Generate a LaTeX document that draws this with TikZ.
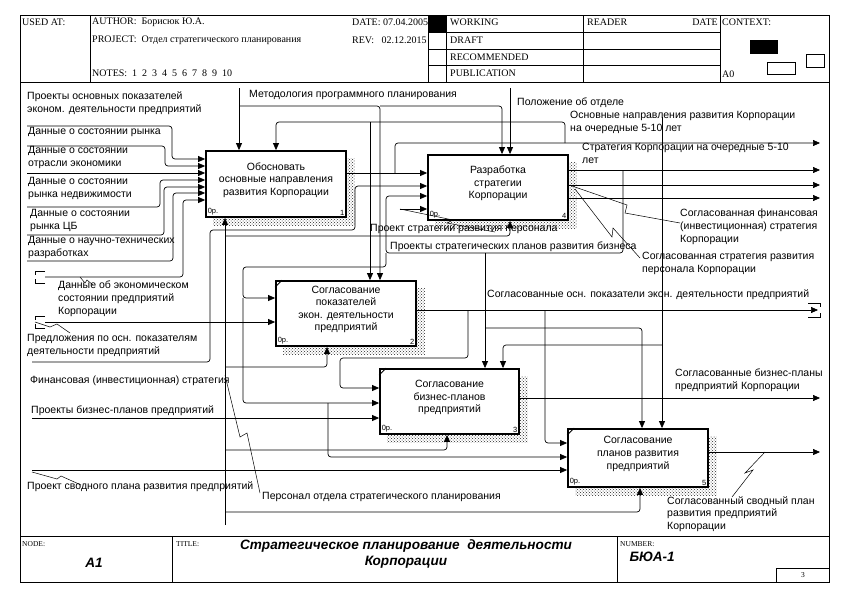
\documentclass[tikz,border=0pt]{standalone}
\usepackage{fontspec}
\setmainfont{Liberation Serif}
\newfontfamily\arial{Liberation Sans}
\usetikzlibrary{arrows.meta,patterns,backgrounds,calc}
\newcommand\diag{\arial\fontsize{10.5}{12.6}\selectfont}

\begin{document}
\begin{tikzpicture}[x=1pt,y=-1pt,
    frame/.style={line width=0.8pt},
    fnbox/.style={draw,line width=1.8pt,fill=white,inner sep=0pt},
    boxtxt/.style={font=\diag,align=center,yshift=4pt},
    link/.style={line width=0.7pt,rounded corners=3pt,-{Triangle[length=7pt,width=6pt]}},
    squig/.style={line width=0.5pt},
    lbl/.style={anchor=north west,inner sep=0pt,align=left,font=\diag},
    hdr/.style={anchor=west,inner sep=0pt,font=\fontsize{10}{11}\selectfont},
    ftr/.style={anchor=west,inner sep=0pt,font=\fontsize{7.5}{9}\selectfont},
    big/.style={font=\arial\bfseries\itshape\fontsize{13.6}{16.5}\selectfont}]
\useasboundingbox (0,0) rectangle (853,608);

% header and frame
\draw[frame] (20,15) rectangle (829,582);
\draw[frame] (20,82) -- (829,82);
\draw[frame] (90,15) -- (90,82) (428,15) -- (428,82) (446,15) -- (446,82)
  (583,15) -- (583,82) (720,15) -- (720,82);
\draw[frame] (428,32) -- (720,32) (428,49) -- (720,49) (428,65) -- (720,65);
\begin{scope}
  \clip (90,15) rectangle (428,82);
  \node[hdr] at (352,22) {DATE: 07.04.2005};
  \node[hdr] at (352,40) {REV:\ \ \ 02.12.2015};
\end{scope}
\fill (428,15) rectangle (446,32);
\node[hdr] at (22,22) {USED AT:};
\node[hdr] at (92,22) {AUTHOR:\ \ Борисюк Ю.А.};
\node[hdr] at (92,40) {PROJECT:\ \ Отдел стратегического планирования};
\node[hdr] at (92,73) {NOTES:\ \ 1\ \ 2\ \ 3\ \ 4\ \ 5\ \ 6\ \ 7\ \ 8\ \ 9\ \ 10};
\node[hdr] at (450,22) {WORKING};
\node[hdr] at (450,40) {DRAFT};
\node[hdr] at (450,57) {RECOMMENDED};
\node[hdr] at (450,73) {PUBLICATION};
\node[hdr] at (587,22) {READER};
\node[hdr,anchor=east] at (718,22) {DATE};
\node[hdr] at (722,22) {CONTEXT:};
\node[hdr] at (722,74) {A0};
\fill (750,40) rectangle (778,54);
\draw[frame] (767,62) rectangle (795,74) (806,54) rectangle (824,67);

% footer
\draw[frame] (20,536) -- (829,536) (172,536) -- (172,582) (617,536) -- (617,582);
\draw[frame] (776,568) rectangle (829,582);
\node[ftr] at (22,544) {NODE:};
\node[ftr] at (176,544) {TITLE:};
\node[ftr] at (620,544) {NUMBER:};
\node[big] at (94,563) {A1};
\node[big,align=center] at (406,554) {Стратегическое планирование\ \ деятельности\\Корпорации};
\node[big,anchor=west] at (626,557) {БЮА-1};
\node[font=\fontsize{7.5}{9}\selectfont] at (803,575) {3};

% function boxes
\node[fnbox,minimum width=140pt,minimum height=66pt] (b1) at (276,184) {};
\node[fnbox,minimum width=140pt,minimum height=65pt] (b4) at (498,187.5) {};
\node[fnbox,minimum width=140pt,minimum height=65pt] (b2) at (346,313.5) {};
\node[fnbox,minimum width=139pt,minimum height=65pt] (b3) at (449.5,401.5) {};
\node[fnbox,minimum width=140pt,minimum height=58pt] (b5) at (638,458) {};
\node[boxtxt] at (b1) {Обосновать\\основные направления\\развития Корпорации};
\node[boxtxt] at (b4) {Разработка\\стратегии\\Корпорации};
\node[boxtxt] at (b2) {Согласование\\показателей\\экон. деятельности\\предприятий};
\node[boxtxt] at (b3) {Согласование\\бизнес-планов\\предприятий};
\node[boxtxt] at (b5) {Согласование\\планов развития\\предприятий};
\foreach \b/\n in {b1/1,b2/2,b3/3,b4/4,b5/5} {
  \node[anchor=south west,inner sep=2.5pt,font=\arial\fontsize{7.5}{8}\selectfont] at (\b.south west) {0р.};
  \node[anchor=south east,inner sep=2.5pt,font=\arial\fontsize{7.5}{8}\selectfont] at (\b.south east) {\n};
}
\foreach \b in {b2,b3,b5}
  \draw[line width=0.8pt] (\b.north west) ++(0,7) -- ++(7,-7);
\begin{scope}[on background layer]
  \foreach \b in {b1,b2,b3,b4,b5}
    \fill[pattern=crosshatch dots,pattern color=black!85] ($(\b.north west)+(8,8)$) rectangle ($(\b.south east)+(8,8)$);
\end{scope}

% free ends and junctions
\coordinate (inA) at (27,126);
\coordinate (inB) at (27,146);
\coordinate (inC) at (27,173);
\coordinate (inD) at (27,207);
\coordinate (inE) at (27,235);
\coordinate (inF) at (27,261);
\coordinate (inG) at (45,277);
\coordinate (inH) at (45,322);
\coordinate (inK) at (32,362);
\coordinate (inL) at (32,418);
\coordinate (inM) at (32,470);
\coordinate (ctA) at (239,88);
\coordinate (ctB) at (510,88);
\coordinate (ctC) at (662,117);
\coordinate (mcA) at (225,525);
\coordinate (stub) at (400,209);
\coordinate (outA) at (820,143);
\coordinate (outB) at (820,170);
\coordinate (outC) at (820,185);
\coordinate (outD) at (820,198);
\coordinate (outE) at (818,310);
\coordinate (outF) at (820,398);
\coordinate (outG) at (820,452);
\coordinate (jA) at (239,106);
\coordinate (jB) at (380,106);
\coordinate (jC) at (565,143);
\coordinate (jD) at (370,122);
\coordinate (jE) at (395,173);
\coordinate (jF) at (623,170);
\coordinate (jG) at (386,253);
\coordinate (jH) at (485,253);
\coordinate (jI) at (485,328);
\coordinate (jK) at (243,298);
\coordinate (jL) at (328,403);
\coordinate (jN) at (468,310);
\coordinate (jO) at (545,310);
\coordinate (jP) at (662,345);

% inputs of box 1
\draw[link] (inA) -| (172,159) -- (b1.west |- 0,159);
\draw[link] (inB) -| (165,166) -- (b1.west |- 0,166);
\draw[link] (inC) -- (b1.west |- 0,173);
\draw[link] (inD) -| (160,180) -- (b1.west |- 0,180);
\draw[link] (inE) -| (164,187) -- (b1.west |- 0,187);
\draw[link] (inF) -| (173,193) -- (b1.west |- 0,193);
\draw[link] (inG) -| (183,200) -- (b1.west |- 0,200);

% controls
\draw[link] (ctA) -- (b1.north -| 239,0);
\draw[link] (jA) -| (b2.north -| 380,0);
\draw[link] (jB) -| (b4.north -| 502,0);
\draw[link] (ctB) -- (b4.north -| 510,0);
\draw[link] (jC) -- (565,122) -| (b1.north -| 276,0);
\draw[link] (jD) -- (b2.north -| 370,0);
\draw[link] (ctC) -- (b5.north -| 662,0);
\draw[link] (jP) -| (b3.north -| 503,0);
\draw[link] (jH) -- (b3.north -| 485,0);
\draw[link] (jI) -| (b5.north -| 642,0);

% box 1 and box 4 outputs
\draw[link] (b1.east |- 0,173) -- (b4.west |- 0,173);
\draw[link] (jE) |- (outA);
\draw[link] (b4.east |- 0,170) -- (outB);
\draw[link] (b4.east |- 0,185) -- (outC);
\draw[link] (b4.east |- 0,198) -- (outD);
\draw[link] (jF) |- (jG) |- (b4.west |- 0,196);
\draw[link] (jG) |- (243,267) |- (b2.west |- 0,298);
\draw[link] (jK) |- (b3.west |- 0,403);
\draw[link] (jL) |- (b5.west |- 0,457);
\draw[link] (inK) -| (210,230) -| (355,186) -- (b4.west |- 0,186);
\draw[link] (stub) -- (b4.west |- 0,209);

% box 2, 3, 5
\draw[link] (inH) -- (b2.west |- 0,322);
\draw[link] (b2.east |- 0,310) -- (outE);
\draw[link] (jN) |- (340,358) |- (b3.west |- 0,388);
\draw[link] (jO) |- (b5.west |- 0,443);
\draw[link] (inL) -- (b3.west |- 0,418);
\draw[link] (b3.east |- 0,398) -- (outF);
\draw[link] (inM) -- (b5.west |- 0,470);
\draw[link] (b5.east |- 0,452) -- (outG);

% mechanism
\draw[link] (mcA) -- (b1.south -| 225,0);
\draw[link] (225,236) -| (b4.south -| 510,0);
\draw[link] (225,367) -| (b2.south -| 327,0);
\draw[link] (225,450) -| (b3.south -| 447,0);
\draw[link] (225,512) -| (b5.south -| 640,0);

% tunnels
\draw[frame] (45,271) -| (35,275) (45,283) -| (35,279);
\draw[frame] (45,316) -| (35,320) (45,328) -| (35,324);
\draw[frame] (808,303) -| (820,307) (808,317) -| (820,313);

% squiggles
\draw[squig] (80,277) -- (85,283) -- (87,280) -- (93,285);
\draw[squig] (35,322) -- (50,327) -- (57,324) -- (70,333);
\draw[squig] (32,472) -- (57,479) -- (61,476) -- (81,485);
\draw[squig] (225,375) -- (240,437) -- (247,433) -- (260,493);
\draw[squig] (stub) -- (453,220) -- (447,223) -- (495,232);
\draw[squig] (572,186) -- (627,205) -- (625,213) -- (680,223);
\draw[squig] (575,189) -- (612,237) -- (613,228) -- (640,258);
\draw[squig] (765,452) -- (745,473) -- (753,470) -- (732,497);

% arrow labels
\node[lbl] at (27,92) {Проекты основных показателей\\эконом. деятельности предприятий};
\node[lbl] at (28,127) {Данные о состоянии рынка};
\node[lbl] at (28,146) {Данные о состоянии\\отрасли экономики};
\node[lbl] at (28,177) {Данные о состоянии\\рынка недвижимости};
\node[lbl] at (30,209) {Данные о состоянии\\рынка ЦБ};
\node[lbl] at (28,236) {Данные о научно-технических\\разработках};
\node[lbl] at (58,281) {Данные об экономическом\\состоянии предприятий\\Корпорации};
\node[lbl] at (27,334) {Предложения по осн. показателям\\деятельности предприятий};
\node[lbl] at (30,376) {Финансовая (инвестиционная) стратегия};
\node[lbl] at (31,405) {Проекты бизнес-планов предприятий};
\node[lbl] at (27,481) {Проект сводного плана развития предприятий};
\node[lbl] at (262,492) {Персонал отдела стратегического планирования};
\node[lbl] at (249,90) {Методология программного планирования};
\node[lbl] at (517,98) {Положение об отделе};
\node[lbl] at (570,111) {Основные направления развития Корпорации\\на очередные 5-10 лет};
\node[lbl] at (582,143) {Стратегия Корпорации на очередные 5-10\\лет};
\node[lbl] at (680,209) {Согласованная финансовая\\(инвестиционная) стратегия\\Корпорации};
\node[lbl] at (642,252) {Согласованная стратегия развития\\персонала Корпорации};
\node[lbl] at (370,224) {Проект стратегии развития персонала};
\node[lbl] at (390,242) {Проекты стратегических планов развития бизнеса};
\node[lbl] at (487,290) {Согласованные осн. показатели экон. деятельности предприятий};
\node[lbl] at (675,369) {Согласованные бизнес-планы\\предприятий Корпорации};
\node[lbl] at (667,496) {Согласованный сводный план\\развития предприятий\\Корпорации};
\end{tikzpicture}
\end{document}
